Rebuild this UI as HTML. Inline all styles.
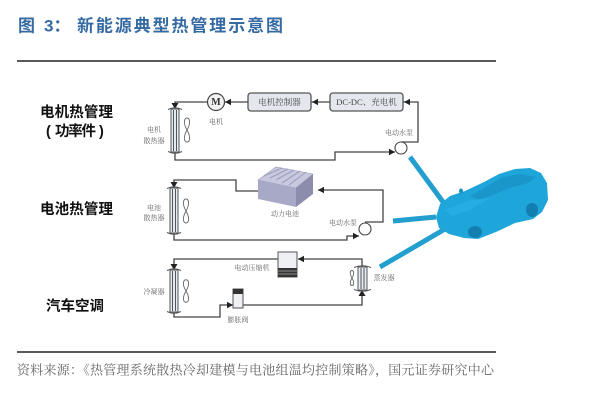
<!DOCTYPE html>
<html><head><meta charset="utf-8">
<style>
html,body{margin:0;padding:0;background:#fff;}
svg{display:block;}
</style></head>
<body>
<svg width="600" height="401" viewBox="0 0 600 401" xmlns="http://www.w3.org/2000/svg">
<rect width="600" height="401" fill="#fff"/>
<!-- Title -->
<g font-family="'Liberation Sans','Noto Sans CJK SC',sans-serif" font-weight="bold" fill="#356aa3" dominant-baseline="central">
<text x="18" y="26" font-size="17">图</text>
<text x="44" y="26" font-size="17">3：</text>
<text x="77" y="26" font-size="17" textLength="206" lengthAdjust="spacing">新能源典型热管理示意图</text>
</g>
<line x1="17" y1="61" x2="496" y2="61" stroke="#222" stroke-width="1.6"/>
<line x1="17" y1="352" x2="496" y2="352" stroke="#222" stroke-width="1.6"/>
<text x="17" y="370" font-size="13" fill="#666" dominant-baseline="central" font-family="'Liberation Serif','Noto Serif CJK SC',serif" textLength="477" lengthAdjust="spacing">资料来源：《热管理系统散热冷却建模与电池组温均控制策略》，国元证券研究中心</text>

<!-- Left labels -->
<g font-family="'Liberation Sans','Noto Sans CJK SC',sans-serif" font-weight="bold" fill="#111" font-size="14.5" dominant-baseline="central">
<text x="40" y="113" textLength="73" lengthAdjust="spacing">电机热管理</text>
<text x="46" y="132">(</text>
<text x="55" y="132" textLength="41" lengthAdjust="spacing">功率件</text>
<text x="99" y="132">)</text>
<text x="40" y="210" textLength="73" lengthAdjust="spacing">电池热管理</text>
<text x="46" y="307" textLength="58" lengthAdjust="spacing">汽车空调</text>
</g>

<g fill="none" stroke="#444" stroke-width="1.3">
<!-- Top circuit -->
<path d="M175,108 V102 H207.5"/>
<path d="M224.5,102 H248"/>
<path d="M311,102 H330"/>
<path d="M403,102 H418 V142 H401"/>
<path d="M175,152 V160 H335 V152 H395"/>
<!-- Middle circuit -->
<path d="M174,188 V180 H236 V191 H258"/>
<path d="M318,190 H383 V222 H365"/>
<path d="M174,233 V240 H347 V236 H359"/>
<!-- Bottom circuit -->
<path d="M174,270 V259 H278"/>
<path d="M298,259 H362 V267"/>
<path d="M362,290 V305 H243"/>
<path d="M233,305 H220 V317 H174 V312"/>
</g>

<!-- arrowheads -->
<g fill="#222">
<polygon points="171.5,103 178.5,103 175,109"/>
<polygon points="170.5,182 177.5,182 174,188"/>
<polygon points="170.5,264 177.5,264 174,270"/>
<polygon points="225,102 231,98.8 231,105.2"/>
<polygon points="312,102 318,98.8 318,105.2"/>
<polygon points="404,102 410,98.8 410,105.2"/>
<polygon points="395,152 389,148.8 389,155.2"/>
<polygon points="318,190 324,186.8 324,193.2"/>
<polygon points="359,236 353,232.8 353,239.2"/>
<polygon points="298,259 304,255.8 304,262.2"/>
<polygon points="233,305 227,301.8 227,308.2"/>
<polygon points="358.5,296 365.5,296 362,290"/>
</g>

<!-- Radiators -->
<g stroke="#555" stroke-width="1">
<rect x="171" y="109" width="8" height="43" fill="#e3ebf3"/>
<line x1="173.5" y1="110" x2="173.5" y2="151"/><line x1="176.5" y1="110" x2="176.5" y2="151"/>
<path d="M168,109.5 Q175,106 182,109.5 M168,151.5 Q175,155 182,151.5" fill="none"/>
<rect x="170" y="188" width="8" height="45" fill="#e3ebf3"/>
<line x1="172.5" y1="189" x2="172.5" y2="232"/><line x1="175.5" y1="189" x2="175.5" y2="232"/>
<path d="M167,188.5 Q174,185 181,188.5 M167,232.5 Q174,236 181,232.5" fill="none"/>
<rect x="170" y="270" width="8" height="42" fill="#e3ebf3"/>
<line x1="172.5" y1="271" x2="172.5" y2="311"/><line x1="175.5" y1="271" x2="175.5" y2="311"/>
<path d="M167,270.5 Q174,267 181,270.5 M167,311.5 Q174,315 181,311.5" fill="none"/>
<rect x="358" y="267" width="9" height="23" fill="#e3ebf3"/>
<line x1="361" y1="268" x2="361" y2="289"/><line x1="364" y1="268" x2="364" y2="289"/>
<path d="M354,267.5 Q362.5,264 371,267.5 M354,289.5 Q362.5,293 371,289.5" fill="none"/>
</g>
<!-- fans -->
<g fill="none" stroke="#666" stroke-width="0.9">
<path d="M187,130 C178,114 196,114 187,130 C178,146 196,146 187,130"/>
<path d="M186,211 C177,195 195,195 186,211 C177,227 195,227 186,211"/>
<path d="M186,291 C177,276 195,276 186,291 C177,306 195,306 186,291"/>
<path d="M352,278 C346,268 358,268 352,278 C346,288 358,288 352,278"/>
</g>

<!-- Motor -->
<circle cx="216" cy="102" r="8.5" fill="#f3f3f3" stroke="#444" stroke-width="1.2"/>
<text x="216" y="102.5" font-size="10" font-weight="bold" text-anchor="middle" dominant-baseline="central" font-family="'Liberation Serif',serif" fill="#333">M</text>
<!-- Boxes -->
<rect x="248" y="93" width="63" height="18" rx="3" fill="#e4e8ee" stroke="#555" stroke-width="1.3"/>
<rect x="330" y="93" width="73" height="18" rx="3" fill="#e4e8ee" stroke="#555" stroke-width="1.3"/>
<g font-family="'Liberation Serif','Noto Serif CJK SC',serif" fill="#444" dominant-baseline="central" text-anchor="middle">
<text x="279.5" y="102" font-size="8.5">电机控制器</text>
<text x="366.5" y="102" font-size="8.5">DC-DC、充电机</text>
</g>
<!-- Pumps -->
<circle cx="401" cy="148" r="6" fill="#fff" stroke="#444" stroke-width="1.1"/>
<circle cx="365" cy="229" r="6" fill="#fff" stroke="#444" stroke-width="1.1"/>

<!-- Battery -->
<polygon points="258,180 276,167 313,174 296,188" fill="#c8c9df" stroke="#9a9bb8" stroke-width="0.6"/>
<g stroke="#9d9ebd" stroke-width="1.1">
<line x1="264" y1="176" x2="282" y2="168"/><line x1="270" y1="178" x2="288" y2="169"/>
<line x1="276" y1="180" x2="294" y2="170"/><line x1="282" y1="183" x2="300" y2="171"/>
<line x1="289" y1="185" x2="306" y2="172"/>
</g>
<polygon points="258,180 296,188 296,207 258,199" fill="#a8a9c6"/>
<polygon points="296,188 313,174 313,194 296,207" fill="#8c8dad"/>

<!-- Compressor -->
<rect x="278" y="252" width="19" height="25" fill="#eef0f3" stroke="#555" stroke-width="1"/>
<rect x="278" y="268" width="19" height="9" fill="#333"/>
<line x1="278" y1="271" x2="297" y2="271" stroke="#aaa" stroke-width="0.8"/>
<line x1="278" y1="274" x2="297" y2="274" stroke="#aaa" stroke-width="0.8"/>
<!-- Valve -->
<rect x="233" y="289" width="10" height="19" fill="#eef0f3" stroke="#555" stroke-width="1"/>
<rect x="233" y="289" width="10" height="5" fill="#333"/>

<!-- small labels -->
<g font-family="'Liberation Serif','Noto Serif CJK SC',serif" fill="#666" font-size="7" text-anchor="middle" dominant-baseline="central">
<text x="216" y="122">电机</text>
<text x="154" y="130">电机</text>
<text x="154" y="141">散热器</text>
<text x="399" y="133">电动水泵</text>
<text x="154" y="208">电池</text>
<text x="154" y="218">散热器</text>
<text x="285" y="214">动力电池</text>
<text x="343" y="223">电动水泵</text>
<text x="252" y="268">电动压缩机</text>
<text x="154" y="292">冷凝器</text>
<text x="384" y="278">蒸发器</text>
<text x="238" y="320">膨胀阀</text>
</g>

<!-- Car arrows -->
<g stroke="#229fcf" stroke-width="5" stroke-linecap="butt">
<line x1="410" y1="157" x2="446" y2="206"/>
<line x1="393" y1="221" x2="436" y2="217"/>
<line x1="380" y1="267" x2="445" y2="229"/>
</g>
<!-- Car -->
<polygon points="436,217 440,204 450,196 465,191 484,182 499,174 515,169 530,168 541,173 547,183 548,200 542,212 533,219 515,223 496,232 478,239 464,238 449,234 439,228" fill="#1ea6da"/>
<polygon points="470,196 487,186 503,177 520,174 536,177 528,183 510,188 490,196 478,200" fill="#1890c4" opacity="0.7"/>
<polygon points="445,210 470,200 490,198 470,210 452,216" fill="#2bb3e6" opacity="0.6"/>
<ellipse cx="475" cy="232" rx="7" ry="6" fill="#137fb0"/>
<ellipse cx="532" cy="210" rx="6" ry="7" fill="#137fb0"/>
<ellipse cx="461" cy="191" rx="2" ry="2.5" fill="#1890c4"/>
</svg>
</body></html>
